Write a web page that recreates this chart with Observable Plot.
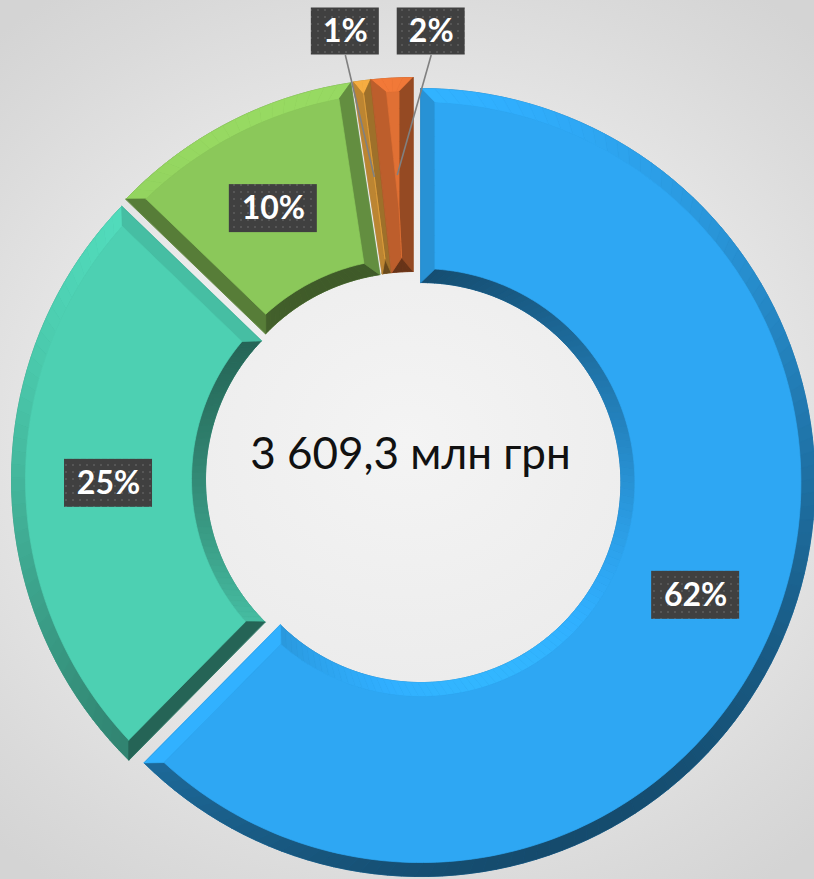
<!DOCTYPE html>
<html>
<head>
<meta charset="utf-8">
<script src="https://cdn.jsdelivr.net/npm/d3@7"></script>
<script src="https://cdn.jsdelivr.net/npm/@observablehq/plot@0.6"></script>
<style>
html, body { margin: 0; padding: 0; }
body {
  width: 814px; height: 879px; overflow: hidden;
  background: radial-gradient(ellipse 75% 62% at 50% 50%, #f4f4f4 0%, #ececec 45%, #dadada 85%, #d4d4d4 100%);
}
#chart svg { display: block; }
</style>
</head>
<body>
<svg width="0" height="0" style="position:absolute">
  <defs>
    <pattern id="dots" width="7" height="7" patternUnits="userSpaceOnUse">
      <rect width="7" height="7" fill="#404040"/>
      <rect x="2" y="2" width="2" height="2" fill="#565656"/>
    </pattern>
  </defs>
</svg>
<div id="chart"></div>
<script>
// ---- data ----
const sliceShares = [62.4, 24.8, 10.4, 0.7, 1.7];           // % of total
const sliceLabels = ["62%", "25%", "10%", "1%", "2%"];
const sliceColors = ["#2ea7f3", "#4dd0b2", "#8bc85a", "#e3a03c", "#e07034"];
const totalText = "3 609,3 млн грн";
const calloutSlices = [3, 4];                                   // small slices labelled above the ring

// ---- layout ----
const W = 814, H = 879;
const CX = 413, CY = 479;            // ring centre in the frame (px)
const R = 394, r = 200, BEV = 14, EXPL = 8;
const calloutTop = 31;
const calloutDx = {3: -29, 4: 34};

const total = d3.sum(sliceShares);
let cum = 0;
const slices = sliceShares.map((v, i) => {
  const a0 = cum / total * 2 * Math.PI; cum += v;
  const a1 = cum / total * 2 * Math.PI;
  const am = (a0 + a1) / 2;
  return {i, a0, a1, am, ox: EXPL * Math.sin(am), oy: EXPL * Math.cos(am), color: sliceColors[i]};
});

const Lx = -0.35, Ly = 1, Ln = Math.hypot(Lx, Ly);
function shade(color, nx, ny, base) {
  const f = base !== undefined ? base : 0.77 + 0.32 * (nx * Lx + ny * Ly) / Ln;
  const c = d3.rgb(color);
  return d3.rgb(Math.min(255, c.r * f), Math.min(255, c.g * f), Math.min(255, c.b * f)).formatHex();
}

const polys = [];
let pid = 0;
function addPoly(pts, fill) { const id = pid++; for (const [x, y] of pts) polys.push({id, x, y, fill}); }

for (const s of slices) {
  const P = (rho, th) => [s.ox + rho * Math.sin(th), s.oy + rho * Math.cos(th)];
  const half = (s.a1 - s.a0) / 2;
  const del = rho => Math.min(Math.asin(Math.min(1, BEV / rho)), half);
  const Ro = R - BEV, Ri = r + BEV;
  const step = Math.PI / 180;
  const arcPts = (rho, t0, t1) => {
    const n = Math.max(1, Math.ceil(Math.abs(t1 - t0) / step));
    return d3.range(n + 1).map(k => P(rho, t0 + (t1 - t0) * k / n));
  };
  const radial = (from, to, side) => d3.range(11).map(k => {
    const rho = from + (to - from) * k / 10;
    return P(rho, side > 0 ? s.a0 + del(rho) : s.a1 - del(rho));
  });
  // silhouette base
  addPoly([...arcPts(R, s.a0, s.a1), ...arcPts(r, s.a1, s.a0)], shade(s.color, 0, 0, 0.72));
  // outer & inner bevel bands
  const nB = Math.max(1, Math.ceil((s.a1 - s.a0) / (2 * step)));
  for (const [rs, rf, sign] of [[R, Ro, 1], [r, Ri, -1]]) {
    const d = del(rf);
    for (let k = 0; k < nB; k++) {
      const t0 = k / nB, t1 = (k + 1) / nB;
      const so = t => s.a0 + (s.a1 - s.a0) * t;
      const fo = t => (s.a0 + d) + ((s.a1 - d) - (s.a0 + d)) * t;
      const tm = so((t0 + t1) / 2);
      addPoly([P(rs, so(t0)), P(rs, so(t1)), P(rf, fo(t1)), P(rf, fo(t0))],
              shade(s.color, sign * Math.sin(tm), sign * Math.cos(tm)));
    }
  }
  // radial edge bands
  addPoly([P(R, s.a0), ...radial(Ro, Ri, 1), P(r, s.a0)], shade(s.color, -Math.cos(s.a0), Math.sin(s.a0)));
  addPoly([P(R, s.a1), ...radial(Ro, Ri, -1), P(r, s.a1)], shade(s.color, Math.cos(s.a1), -Math.sin(s.a1)));
  // top face
  addPoly([
    ...arcPts(Ro, s.a0 + del(Ro), s.a1 - del(Ro)),
    ...radial(Ro, Ri, -1),
    ...arcPts(Ri, s.a1 - del(Ri), s.a0 + del(Ri)),
    ...radial(Ri, Ro, 1)
  ], s.color);
}

const rm = (R + r) / 2;
const labelData = slices.map(s => {
  const cx = s.ox + rm * Math.sin(s.am), cy = s.oy + rm * Math.cos(s.am);
  const callout = calloutSlices.includes(s.i);
  const label = sliceLabels[s.i];
  const bx = callout ? cx + calloutDx[s.i] : cx;
  const by = callout ? CY - calloutTop : cy;
  const w = 28 + 20 * label.length;
  const h = callout ? 47 : 48;
  return {label, cx, cy, bx, by, w, h, callout};
});
const callouts = labelData.filter(d => d.callout);

const plot = Plot.plot({
  width: W, height: H, margin: 0,
  x: {domain: [-CX, W - CX], axis: null},
  y: {domain: [-(H - CY), CY], axis: null},
  color: {type: "identity"},
  style: {background: "transparent", overflow: "visible"},
  marks: [
    Plot.line(polys, {x: "x", y: "y", z: "id", fill: "fill", stroke: "fill", strokeWidth: 0.7, curve: "linear-closed"}),
    Plot.link(callouts, {x1: "cx", y1: "cy", x2: "bx", y2: d => d.by - d.h / 2, stroke: "#808080", strokeWidth: 1.6}),
    Plot.rect(labelData, {x1: d => d.bx - d.w / 2, x2: d => d.bx + d.w / 2, y1: d => d.by - d.h / 2, y2: d => d.by + d.h / 2,
      fill: "url(#dots)", ariaLabel: "label box"}),
    Plot.text(labelData, {x: "bx", y: "by", text: "label", fill: "white", fontSize: 32, fontWeight: 700,
      fontFamily: "Lato, 'DejaVu Sans', sans-serif", ariaLabel: "slice labels"}),
    Plot.text([totalText], {x: () => 0, y: () => 0, text: d => d, dx: -3, dy: -25, fontSize: 44, fill: "#111",
      fontFamily: "Lato, 'DejaVu Sans', sans-serif", ariaLabel: "total"})
  ]
});
const boxG = plot.querySelector('g[aria-label="label box"]');
if (boxG) boxG.style.filter = "drop-shadow(3px 4px 3px rgba(0,0,0,0.45))";
const lblG = plot.querySelector('g[aria-label="slice labels"]');
if (lblG) lblG.style.letterSpacing = "0.8px";
const totG = plot.querySelector('g[aria-label="total"]');
if (totG) totG.style.letterSpacing = "1.6px";
document.getElementById("chart").appendChild(plot);
</script>
</body>
</html>
